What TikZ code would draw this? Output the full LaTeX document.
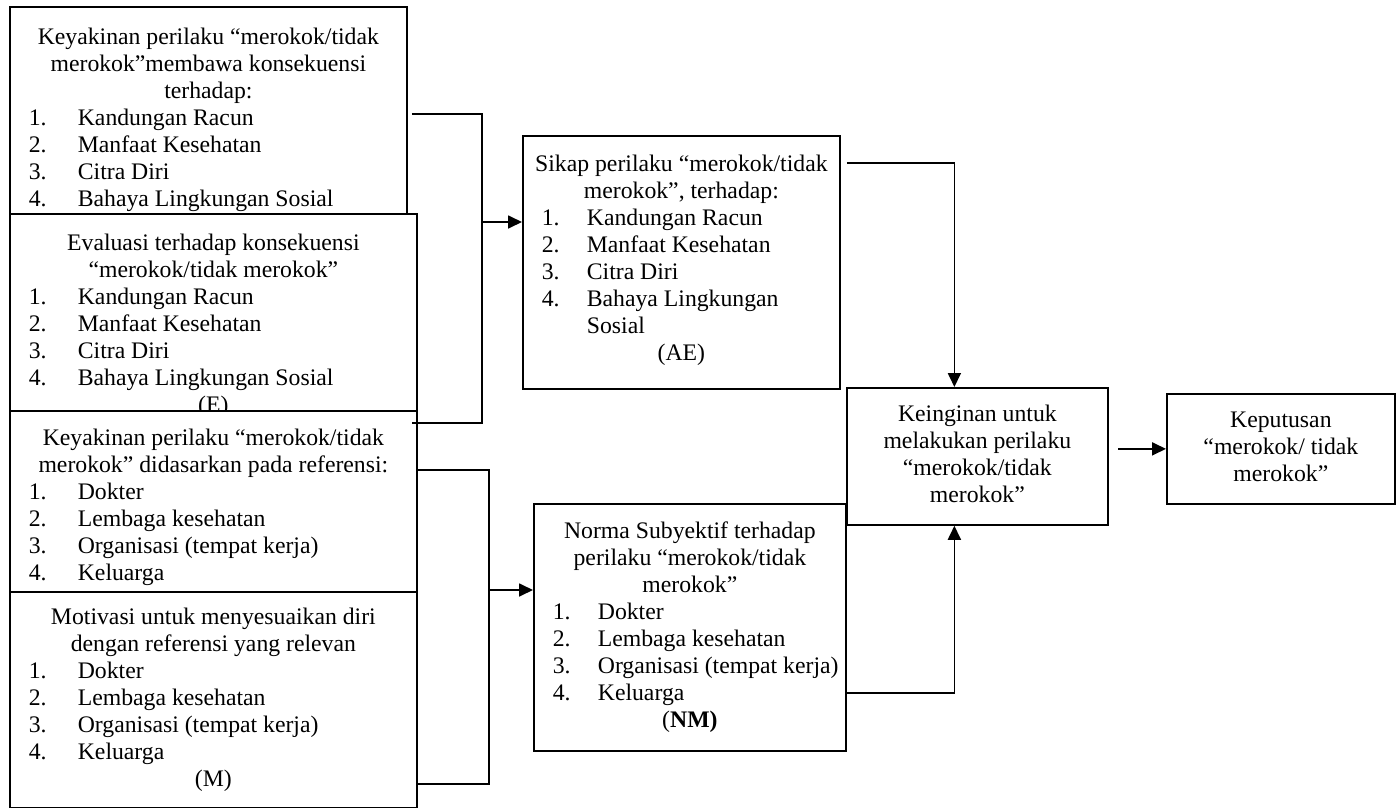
\documentclass[tikz,border=0pt]{standalone}
\usepackage{fontspec}
\setmainfont{Liberation Serif}
\usepackage{tikz}
\usetikzlibrary{arrows.meta, positioning}

% one pixel of the layout grid
\newlength\px
\setlength\px{0.02cm}
% box text: height, width, top gap, contents
\newcommand{\boxtxt}[4]{\parbox[c][#1][t]{#2}{\vspace*{#3}#4}}
% numbered line of a list, optional label width
\newcommand{\itm}[3][49]{\par\noindent\hspace*{19\px}\makebox[#1\px][l]{#2}#3\par}

\begin{document}
\begin{tikzpicture}[
    x=0.02cm, y=-0.02cm,
    font=\fontsize{13.5}{15.36}\selectfont,
    box/.style={rectangle, draw, line width=1pt, fill=white, inner sep=0pt,
                anchor=north west},
    line/.style={line width=1pt},
    arr/.style={-{Triangle[length=0.28cm, width=0.26cm]}, line width=1pt},
]
\useasboundingbox (0,0) rectangle (1400,808);

% left column: beliefs, evaluations, referents, motivation
\node[box] (b1) at (9,6) {\boxtxt{214\px}{397\px}{19\px}{%
    {\centering\strut Keyakinan perilaku “merokok/tidak\\
     merokok”membawa konsekuensi\\ terhadap:\par}
    \itm{1.}{Kandungan Racun}
    \itm{2.}{Manfaat Kesehatan}
    \itm{3.}{Citra Diri}
    \itm{4.}{Bahaya Lingkungan Sosial}}};
\node[box] (ev) at (9,213) {\boxtxt{200\px}{407\px}{18\px}{%
    {\centering\strut Evaluasi terhadap konsekuensi\\
     “merokok/tidak merokok”\par}
    \itm{1.}{Kandungan Racun}
    \itm{2.}{Manfaat Kesehatan}
    \itm{3.}{Citra Diri}
    \itm{4.}{Bahaya Lingkungan Sosial}
    {\par\centering (E)\par}}};
\node[box] (b2) at (9,410) {\boxtxt{181\px}{407\px}{16\px}{%
    {\centering\strut Keyakinan perilaku “merokok/tidak\\
     merokok” didasarkan pada referensi:\par}
    \itm{1.}{Dokter}
    \itm{2.}{Lembaga kesehatan}
    \itm{3.}{Organisasi (tempat kerja)}
    \itm{4.}{Keluarga}}};
\node[box] (mo) at (9,591) {\boxtxt{216\px}{407\px}{14\px}{%
    {\centering\strut Motivasi untuk menyesuaikan diri\\
     dengan referensi yang relevan\par}
    \itm{1.}{Dokter}
    \itm{2.}{Lembaga kesehatan}
    \itm{3.}{Organisasi (tempat kerja)}
    \itm{4.}{Keluarga}
    {\par\centering (M)\par}}};

% middle column: attitude and subjective norm
\node[box] (ae) at (522,135) {\boxtxt{253\px}{317\px}{17\px}{%
    {\centering\strut Sikap perilaku “merokok/tidak\\
     merokok”, terhadap:\par}
    \itm[45]{1.}{Kandungan Racun}
    \itm[45]{2.}{Manfaat Kesehatan}
    \itm[45]{3.}{Citra Diri}
    \itm[45]{4.}{Bahaya Lingkungan}
    \itm[45]{}{Sosial}
    {\par\centering (AE)\par}}};
\node[box] (nm) at (533,503) {\boxtxt{247\px}{312\px}{16\px}{%
    {\centering\strut Norma Subyektif terhadap\\
     perilaku “merokok/tidak\\ merokok”\par}
    \itm[45]{1.}{Dokter}
    \itm[45]{2.}{Lembaga kesehatan}
    \itm[45]{3.}{Organisasi (tempat kerja)}
    \itm[45]{4.}{Keluarga}
    {\par\centering (\textbf{NM)}\par}}};

% right: intention and decision
\node[box] (kg) at (846,387) {\parbox[c][137\px][c]{261\px}{\centering
    \strut Keinginan untuk\\ melakukan perilaku\\ “merokok/tidak\\ merokok”\strut}};
\node[box] (kp) at (1166,393) {\parbox[c][110\px][c]{228\px}{\centering
    \strut Keputusan\\ “merokok/ tidak\\ merokok”\strut}};

\coordinate (aein) at ([yshift=-87\px]ae.north west);
\coordinate (nmin) at ([yshift=-87\px]nm.north west);
\coordinate (ja) at ([xshift=-40\px]aein);
\coordinate (jb) at ([xshift=-44\px]nmin);

\draw[line] ([xshift=4\px]b1.east) -| ([yshift=-13\px]ja |- b2.north)
            -- ([shift={(-6\px,-13\px)}]b2.north east);
\draw[arr] (ja) -- (aein);

\draw[line] ([yshift=-60\px]b2.north east) -| (jb)
            |- ([yshift=25\px]mo.south east);
\draw[arr] (jb) -- (nmin);

\draw[arr] ([shift={(6\px,-28\px)}]ae.north east) -| ([xshift=-23\px]kg.north);
\draw[arr] ([yshift=59\px]nm.south east) -| ([xshift=-23\px]kg.south);
\draw[arr] ([xshift=-48\px]kp.west) -- (kp.west);

\end{tikzpicture}
\end{document}
